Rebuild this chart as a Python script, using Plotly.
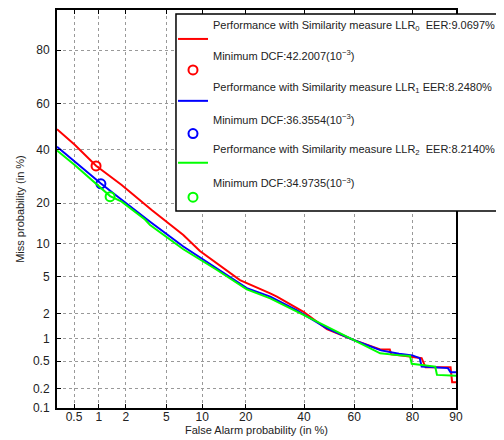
import plotly.graph_objects as go
from statistics import NormalDist

ppf = NormalDist().inv_cdf

def pv(vals):
    return [ppf(v / 100.0) for v in vals]

# ---- data (percent) ----
fa_red = [0.3, 0.51, 0.93, 1.81, 3.66, 7.05, 9.6, 12.8, 18.4, 27.6, 29.9, 39.8, 49.1, 59.7, 69.7, 73.0, 73.5, 78.0, 82.5, 83.5, 89.0, 89.3, 90.0]
miss_red = [48.9, 42.1, 33.4, 26.1, 18.0, 11.7, 8.6, 6.7, 4.6, 3.36, 3.1, 2.1, 1.31, 0.96, 0.72, 0.72, 0.62, 0.59, 0.55, 0.41, 0.41, 0.25, 0.25]

fa_blue = [0.3, 0.51, 1.06, 1.81, 3.15, 3.53, 7.05, 12.8, 20.3, 27.6, 37.1, 49.0, 60.0, 70.0, 76.0, 80.0, 82.0, 82.5, 88.5, 89.0, 90.0]
miss_blue = [41.3, 35.0, 26.6, 21.1, 15.7, 14.8, 9.4, 6.0, 3.8, 3.1, 2.2, 1.35, 0.95, 0.70, 0.63, 0.60, 0.55, 0.42, 0.40, 0.35, 0.35]

fa_green = [0.3, 0.51, 1.35, 1.81, 3.15, 3.53, 7.05, 12.8, 20.3, 27.6, 39.8, 53.1, 61.0, 69.7, 76.3, 79.3, 79.8, 85.8, 86.2, 90.0]
miss_green = [39.7, 33.7, 22.3, 20.5, 15.4, 14.0, 8.9, 5.8, 3.7, 2.97, 1.93, 1.22, 0.91, 0.64, 0.60, 0.59, 0.46, 0.42, 0.32, 0.31]

dcf_fa = [0.93, 1.06, 1.35]
dcf_miss = [33.3, 26.5, 22.1]

names_line = [
    "Performance with Similarity measure LLR<sub>0</sub>&nbsp;&nbsp;EER:9.0697%",
    "Performance with Similarity measure LLR<sub>1</sub>&nbsp;EER:8.2480%",
    "Performance with Similarity measure LLR<sub>2</sub>&nbsp;&nbsp;EER:8.2140%",
]
names_dcf = [
    "Minimum DCF:42.2007(10<sup>−3</sup>)",
    "Minimum DCF:36.3554(10<sup>−3</sup>)",
    "Minimum DCF:34.9735(10<sup>−3</sup>)",
]
colors = ["#ff0000", "#0000ff", "#00ff00"]

x_ticks = [0.5, 1, 2, 5, 10, 20, 40, 60, 80, 90]
x_ticktext = ["0.5", "1", "2", "5", "10", "20", "40", "60", "80", "90"]
y_ticks = [0.1, 0.2, 0.5, 1, 2, 5, 10, 20, 40, 60, 80, 90]
y_ticktext = ["0.1", "0.2", "0.5", "1", "2", "5", "10", "20", "40", "60", "80", "90"]

fig = go.Figure()
curves = [(fa_red, miss_red), (fa_blue, miss_blue), (fa_green, miss_green)]
for i, (fa, ms) in enumerate(curves):
    fig.add_trace(go.Scatter(
        x=pv(fa), y=pv(ms), mode="lines",
        line=dict(color=colors[i], width=2),
        name=names_line[i] + "<br> <br> ",
        legend="legend", legendgroup="l%d" % i,
    ))
    fig.add_trace(go.Scatter(
        x=[ppf(dcf_fa[i] / 100)], y=[ppf(dcf_miss[i] / 100)], mode="markers",
        marker=dict(symbol="circle-open", size=9, color=colors[i], line=dict(width=2, color=colors[i])),
        name=names_dcf[i] + "<br> ",
        legend="legend2", legendgroup="m%d" % i,
    ))

axis_common = dict(
    showline=True, linecolor="black", linewidth=2, mirror="ticks",
    ticks="inside", ticklen=4, tickcolor="black", tickwidth=1,
    showgrid=True, gridcolor="#999999", griddash="dot", gridwidth=1,
    zeroline=False, tickfont=dict(size=12, color="#222"), automargin=False,
)

fig.update_xaxes(
    range=[ppf(0.003), ppf(0.9)], tickvals=pv(x_ticks), ticktext=x_ticktext,
    title=dict(text="False Alarm probability (in %)", font=dict(size=11, color="#222"), standoff=0),
    ticklabelstandoff=-3,
    **axis_common,
)
fig.update_yaxes(
    range=[ppf(0.001), ppf(0.9)], tickvals=pv(y_ticks), ticktext=y_ticktext,
    title=dict(text="Miss probability (in %)", font=dict(size=11, color="#222"), standoff=6),
    ticklabelstandoff=3,
    **axis_common,
)

leg_common = dict(
    xanchor="left", yanchor="top", bgcolor="rgba(0,0,0,0)", borderwidth=0,
    font=dict(size=11, color="#222"), itemwidth=30,
)

fig.update_layout(
    width=496, height=432,
    margin=dict(l=49, r=48, t=2, b=32, autoexpand=False),
    paper_bgcolor="white", plot_bgcolor="white",
    font=dict(family="Liberation Sans, Arial, sans-serif", color="#222"),
    showlegend=True,
    legend=dict(x=0.2907, y=0.9975, tracegroupgap=16, valign="middle", **leg_common),
    legend2=dict(x=0.2907, y=0.9196, tracegroupgap=32, valign="bottom", **leg_common),
    shapes=[dict(
        type="rect", xref="paper", yref="paper",
        x0=0.2982, x1=1.1103, y0=0.4950, y1=0.98995,
        line=dict(color="black", width=1.5), fillcolor="white", layer="above",
    )],
)

fig.write_html("out.html")
